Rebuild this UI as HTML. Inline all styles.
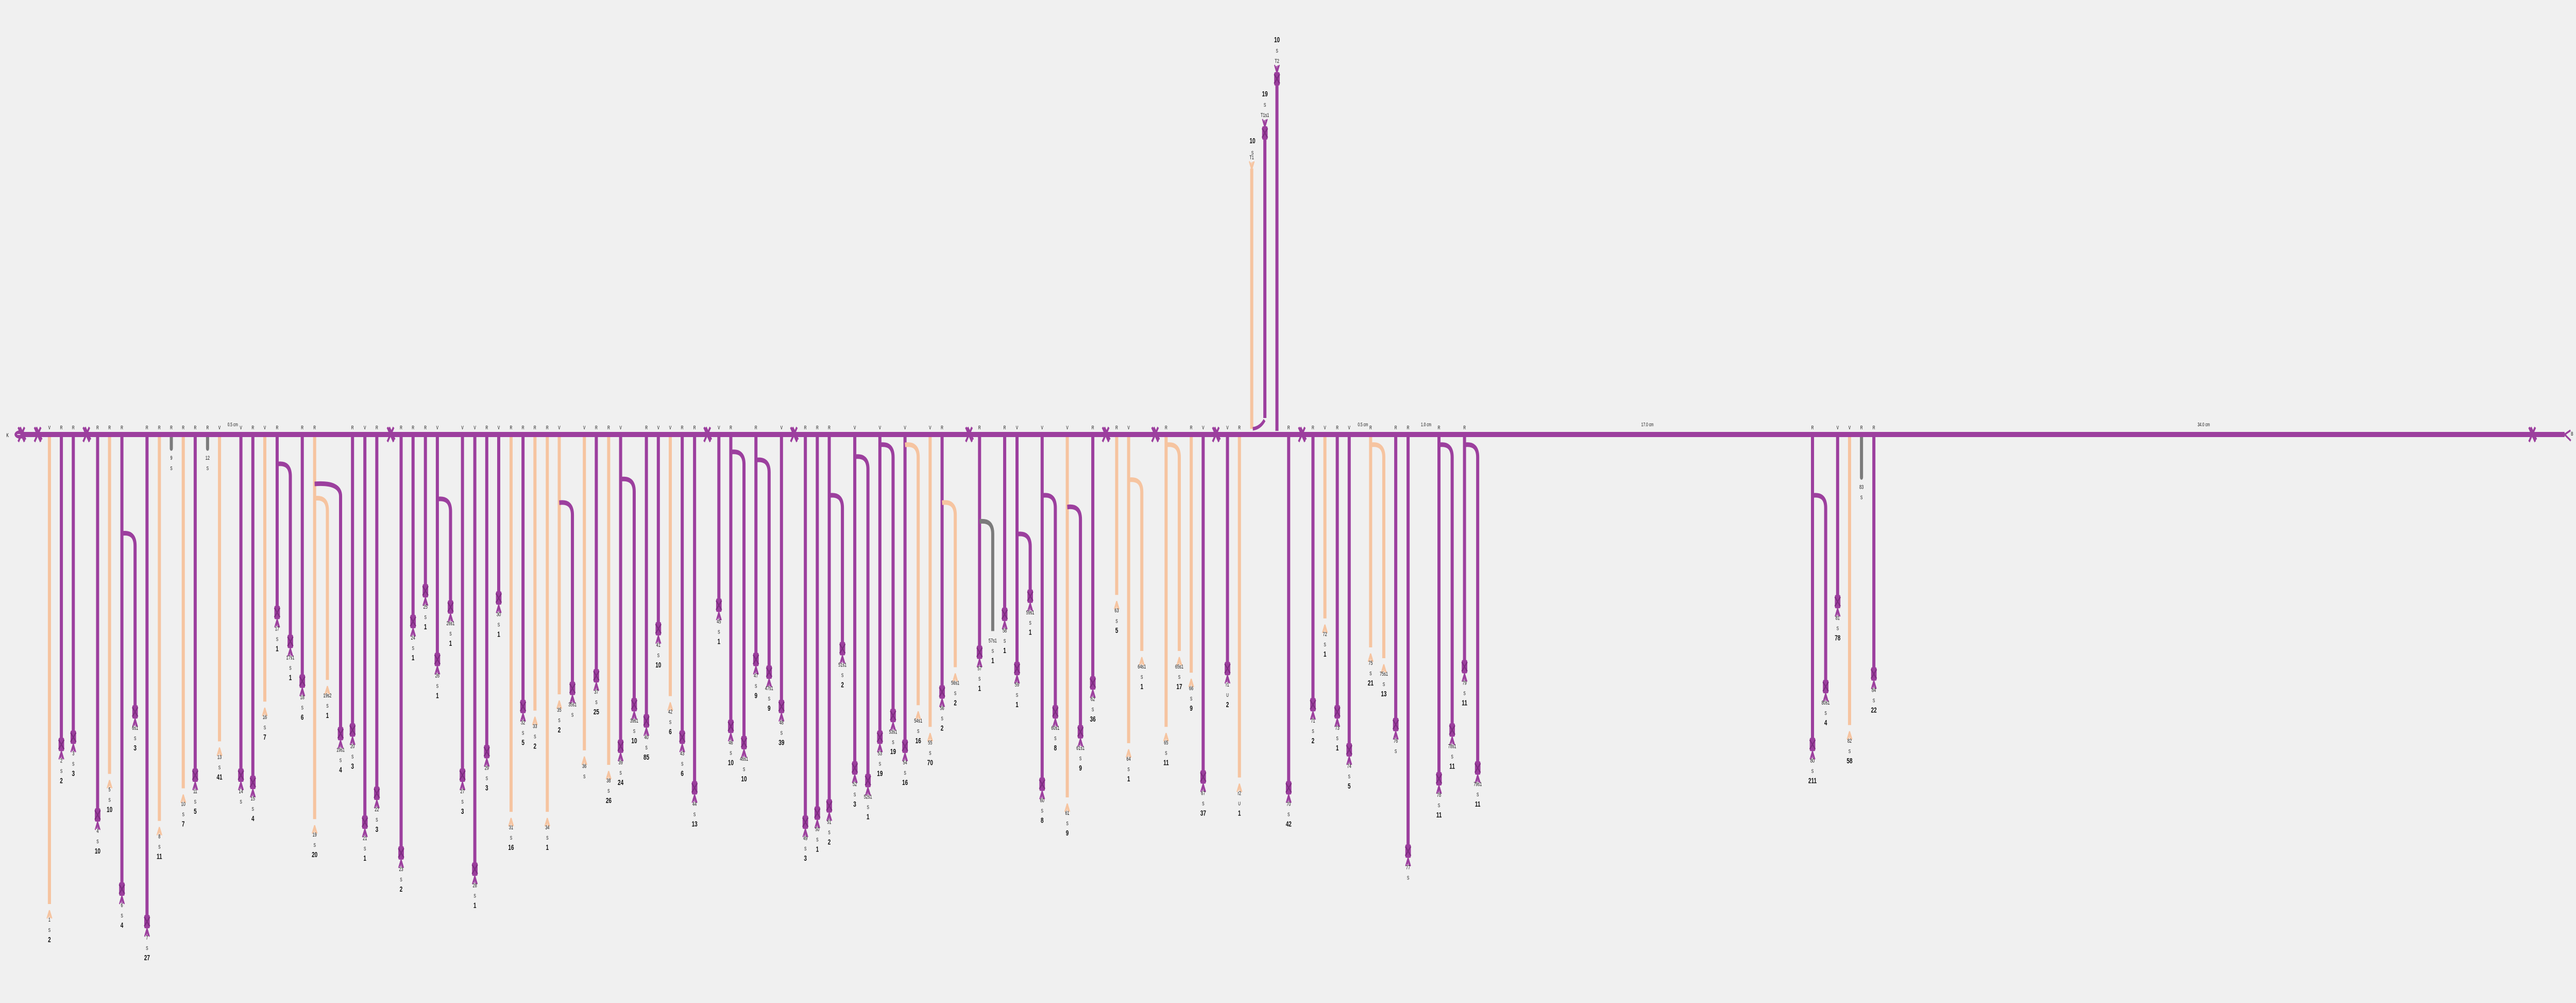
<!DOCTYPE html>
<html><head><meta charset="utf-8"><title>Khipu diagram</title>
<style>
html,body{margin:0;padding:0;background:#f0f0f0;width:100%;height:100%;overflow:hidden;}
svg{display:block;font-family:"Liberation Sans",sans-serif;overflow:hidden;width:100vw;height:100vh;}
</style></head>
<body>
<svg id="chart" viewBox="0 0 7460 1946" preserveAspectRatio="none" xmlns="http://www.w3.org/2000/svg">
<rect width="7460" height="1946" fill="#f0f0f0"/>
<g id="cords"></g>
<g id="main"></g>
<g id="labels"></g>
</svg>
<script>
// Pendant cords: [zone, dx, attach, color, endD, label, value, type]
const pendants = [
[0,120,'V','t',1360,'1','2','S'],[0,149,'R','p',920,'2','2','S'],[0,178,'R','p',900,'3','3','S'],
[0,237,'R','p',1115,'4','10','S'],[0,266,'R','t',1000,'5','10','S'],[0,296,'R','p',1320,'6','4','S'],
[0,357,'R','p',1410,'7','27','S'],[0,387,'R','t',1130,'8','11','S'],[0,416,'R','g',100,'9','','S'],
[0,445,'R','t',1040,'10','7','S'],[0,474,'R','p',1005,'11','5','S'],[0,504,'R','g',100,'12','','S'],
[0,533,'V','t',910,'13','41','S'],[0,585,'V','p',1005,'14','','S'],[0,614,'R','p',1025,'15','4','S'],
[0,643,'V','t',800,'16','7','S'],[0,673,'R','p',555,'17','1','S'],[0,734,'R','p',745,'18','6','S'],
[0,764,'R','t',1125,'19','20','S'],[0,856,'R','p',880,'20','3','S'],[0,886,'V','p',1135,'21','1','S'],
[0,915,'R','p',1055,'22','3','S'],[0,974,'R','p',1220,'23','2','S'],[0,1003,'R','p',580,'24','1','S'],
[0,1033,'R','p',495,'25','1','S'],[0,1062,'V','p',685,'26','1','S'],[0,1123,'V','p',1005,'27','3','S'],
[0,1153,'V','p',1265,'28','1','S'],[0,1182,'R','p',940,'29','3','S'],[0,1211,'V','p',515,'30','1','S'],
[0,1241,'R','t',1105,'31','16','S'],[0,1270,'R','p',815,'32','5','S'],[0,1299,'R','t',825,'33','2','S'],
[0,1329,'R','t',1105,'34','1','S'],[0,1358,'V','t',780,'35','2','S'],[0,1419,'V','t',935,'36','','S'],
[0,1448,'R','p',730,'37','25','S'],[0,1478,'R','t',975,'38','26','S'],[0,1507,'V','p',925,'39','24','S'],
[1,10,'R','p',855,'40','85','S'],[1,39,'V','p',600,'41','10','S'],[1,68,'V','t',785,'42','6','S'],
[1,97,'R','p',900,'43','6','S'],[1,127,'R','p',1040,'44','13','S'],[1,186,'V','p',535,'45','1','S'],
[1,215,'R','p',870,'46','10','S'],[1,276,'R','p',685,'47','9','S'],[1,338,'V','p',815,'48','39','S'],
[1,396,'R','p',1135,'49','3','S'],[1,425,'R','p',1110,'50','1','S'],[1,454,'R','p',1090,'51','2','S'],
[1,516,'V','p',985,'52','3','S'],[1,577,'V','p',900,'53','19','S'],[1,638,'V','p',925,'54','16','S'],
[1,699,'V','t',870,'55','70','S'],[1,728,'R','p',775,'56','2','S'],[1,819,'R','p',665,'57','1','S'],
[1,880,'R','p',560,'58','1','S'],[1,910,'V','p',710,'59','1','S'],[1,971,'V','p',1030,'60','8','S'],
[1,1032,'V','t',1065,'61','9','S'],[1,1094,'R','p',750,'62','36','S'],[1,1152,'R','t',505,'63','5','S'],
[1,1181,'V','t',915,'64','1','S'],[1,1272,'R','t',870,'65','11','S'],[1,1333,'R','t',720,'66','9','S'],
[1,1362,'V','p',1010,'67','37','S'],[1,1421,'V','p',710,'r1','2','U'],[1,1450,'R','t',1010,'r2','1','U'],
[2,10,'R','p',1040,'70','42','S'],[2,69,'R','p',810,'71','2','S'],[2,98,'V','t',570,'72','1','S'],
[2,128,'R','p',830,'73','1','S'],[2,157,'V','p',935,'74','5','S'],[2,209,'R','t',650,'75','21','S'],
[2,270,'R','p',865,'76','','S'],[2,300,'R','p',1215,'77','','S'],[2,375,'R','p',1015,'78','11','S'],
[2,437,'R','p',705,'79','11','S'],[2,1282,'R','p',920,'80','211','S'],[2,1343,'V','p',525,'81','78','S'],
[2,1372,'V','t',865,'82','58','S'],[2,1401,'R','g',180,'83','','S'],[2,1431,'R','p',725,'84','22','S']
];
// Subsidiaries: [zone, parentDx, dx, color, hookD, endD, label, value]
const subsidiaries = [
[0,296,328,'p',335,830,'6s1','3'],[0,673,705,'p',143,635,'17s1','1'],[0,764,827,'p',198,890,'19s1','4'],
[0,764,795,'t',238,740,'19s2','1'],[0,1062,1094,'p',240,540,'26s1','1'],[0,1358,1390,'p',250,765,'35s1',''],
[0,1507,1540,'p',185,810,'39s1','10'],[1,215,247,'p',110,915,'46s1','10'],[1,276,308,'p',132,720,'47s1','9'],
[1,454,486,'p',230,655,'51s1','2'],[1,516,548,'p',123,1020,'52s1','1'],[1,577,609,'p',90,840,'53s1','19'],
[1,638,670,'t',90,810,'54s1','16'],[1,728,760,'t',250,705,'56s1','2'],[1,819,851,'g',302,605,'57s1','1'],
[1,910,942,'p',337,510,'59s1','1'],[1,971,1003,'p',230,830,'60s1','8'],[1,1032,1064,'p',262,885,'61s1','9'],
[1,1181,1213,'t',187,660,'64s1','1'],[1,1272,1304,'t',90,660,'65s1','17'],[2,209,241,'t',90,680,'75s1','13'],
[2,375,407,'p',90,880,'78s1','11'],[2,437,469,'p',90,985,'79s1','11'],[2,1282,1314,'p',230,760,'80s1','4']
];
const mainKnots = [62,109,250,1131,2048,2299,2806,3202,3345,3521,3770,7333];
const spacingLabels = [[674,'0.5 cm'],[3947,'0.5 cm'],[4130,'1.0 cm'],[4771,'17.0 cm'],[6382,'34.0 cm']];
const topCords = [[3625,'t',327,'T1','10'],[3663,'p',245,'T1s1','19'],[3698,'p',140,'T2','10']];

const NS='http://www.w3.org/2000/svg';
const COL={p:'#9c3f9e',t:'#f6c4a0',g:'#7b7b7b'};
const MAINY=843;
const zoneX=[0,1860,3720];
function X(z,d){return zoneX[z]+d/0.8385;}
function Y(d){return 800+d*0.7015;}
const gC=document.getElementById('cords'),gM=document.getElementById('main'),gL=document.getElementById('labels');
function mk(tag,attrs,parent){const e=document.createElementNS(NS,tag);for(const k in attrs)e.setAttribute(k,attrs[k]);parent.appendChild(e);return e;}
function txt(x,y,s,size,bold,parent){const t=mk('text',{x:x,y:y,'font-size':size,'text-anchor':'middle','fill':'#111','font-weight':bold?'bold':'normal'},parent);t.textContent=s;return t;}
function tassel(x,y,c,up){
  const g=mk('g',{},gC);
  
  
  const dir=up?-1:1;
  if(c==='p'){
    mk('rect',{x:x-8,y:y-14,width:16,height:26,rx:3,fill:COL.p},g);
    mk('path',{d:`M${x-8} ${y-10} L${x+8} ${y+8} M${x+8} ${y-10} L${x-8} ${y+8}`,stroke:'#7d2c80','stroke-width':3},g);
  }
  const fy=y+12*dir;
  mk('path',{d:`M${x} ${fy} L${x-7} ${fy+16*dir} M${x} ${fy} L${x-2} ${fy+14*dir} M${x} ${fy} L${x+3} ${fy+15*dir} M${x} ${fy} L${x+7} ${fy+16*dir}`,stroke:COL[c],'stroke-width':3,fill:'none'},g);
}
function endLabels(x,y,label,type,value,gray){
  const off=gray?22:34;
  const a=txt(x,y+off,label,11,false,gL);
  
  
  const b=txt(x,y+off+20,type,10,false,gL);
  
  
  if(value!==''){
    const v=txt(x,y+off+40,value,15,true,gL);
    
    
  }
}
pendants.forEach(p=>{
  const [z,d,att,c,e,lab,val,type]=p;
  const x=X(z,d),ye=Y(e);
  const l=mk('line',{x1:x,y1:MAINY,x2:x,y2:ye,stroke:COL[c],'stroke-width':9,'stroke-linecap':c==='g'?'round':'butt'},gC);
  
  
  if(c!=='g')tassel(x,ye,c,false);
  const t=txt(x,MAINY-10,att,10,false,gL);
  
  
  endLabels(x,ye,lab,type,val,c==='g');
});
subsidiaries.forEach(s=>{
  const [z,pd,d,c,h,e,lab,val]=s;
  const px=X(z,pd),x=X(z,d),yh=Y(h),ye=Y(e);
  const path=mk('path',{d:`M${px} ${yh} Q${x} ${yh-4} ${x} ${yh+24} L${x} ${ye}`,stroke:COL[c],'stroke-width':9,fill:'none'},gC);
  
  
  if(c!=='g')tassel(x,ye,c,false);
  endLabels(x,ye,lab,'S',val,c==='g');
});
topCords.forEach(tc=>{
  const [x,c,top,lab,val]=tc;
  const l=mk('line',{x1:x,y1:top,x2:x,y2:lab==='T1s1'?811:(lab==='T1'?832:836),stroke:COL[c],'stroke-width':9},gC);
  
  
  tassel(x,top+14,c,true);
  const a=txt(x,top-18,lab,11,false,gL);
  
  
  if(lab!=='T1'){const s=txt(x,top-38,'S',10,false,gL);
  const v=txt(x,top-58,val,15,true,gL);}
  else{const s=txt(3627,300,'S',10,false,gL);
  const v=txt(3627,278,val,15,true,gL);}
});
const hook=mk('path',{d:'M3628 832 Q3650 830 3662 815',stroke:COL.p,'stroke-width':7,fill:'none'},gC);


const mc=mk('line',{x1:48,y1:MAINY,x2:7427,y2:MAINY,stroke:COL.p,'stroke-width':10},gM);


const loop=mk('ellipse',{cx:58,cy:MAINY,rx:16,ry:8,fill:COL.p},gM);


mk('line',{x1:50,y1:MAINY,x2:62,y2:MAINY,stroke:'#fff','stroke-width':1.5},gM);
mainKnots.forEach(kx=>{
  const k=mk('path',{d:`M${kx-9} ${MAINY-14} L${kx+9} ${MAINY+14} M${kx+9} ${MAINY-14} L${kx-9} ${MAINY+14} M${kx-4} ${MAINY-14} L${kx+12} ${MAINY+10}`,stroke:COL.p,'stroke-width':5},gM);
  
  
});
const endF=mk('path',{d:`M7427 ${MAINY} L7444 ${MAINY-8} M7427 ${MAINY} L7445 ${MAINY+12}`,stroke:COL.p,'stroke-width':4},gM);


const kl=txt(22,MAINY+5,'K',11,false,gL);


const bl=txt(7452,MAINY+2,'B',10,false,gL);
bl.setAttribute('text-anchor','end');


spacingLabels.forEach(s=>{
  const t=txt(s[0],MAINY-16,s[1],10,false,gL);
  
  
});
</script>
</body></html>
